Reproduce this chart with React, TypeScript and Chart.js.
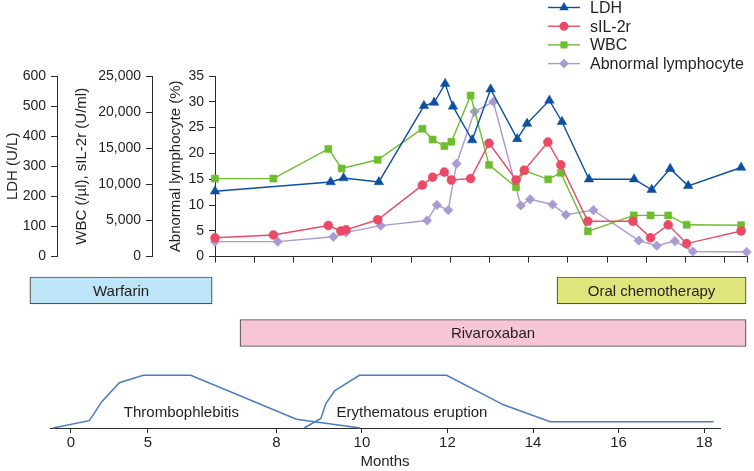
import React, { useEffect, useRef } from 'react';
import { Chart, registerables } from 'chart.js';

Chart.register(...registerables);

const FONT = "'Liberation Sans', Arial, Helvetica, sans-serif";
const INK = '#231f20';
const AXIS = '#2b2b2b';
Chart.defaults.font.family = FONT;
Chart.defaults.color = INK;

// ---------- top panel data ----------
const TOP_TICKS = [0, 1, 2, 3, 4, 5, 6, 7, 8, 9, 10, 11, 12, 13, 13.57];
const LDH_TICKS = [0, 100, 200, 300, 400, 500, 600];
const WBC_TICKS = [0, 5000, 10000, 15000, 20000, 25000];
const ABN_TICKS = [0, 5, 10, 15, 20, 25, 30, 35];

const SERIES_NAMES = ['LDH', 'sIL-2r', 'WBC', 'Abnormal lymphocyte'];

const LDH_X = [0, 2.95, 3.28, 4.18, 5.33, 5.59, 5.87, 6.07, 6.56, 7.03, 7.71, 7.96, 8.53, 8.85, 9.54, 10.69, 11.14, 11.61, 12.07, 13.42];
const LDH_Y = [217, 248, 261, 248, 501, 512, 574, 499, 387, 556, 391, 442, 519, 448, 257, 257, 222, 292, 235, 296];

const SIL_X = [0, 1.49, 2.89, 3.21, 3.34, 4.15, 5.29, 5.55, 5.85, 6.03, 6.52, 6.99, 7.68, 7.89, 8.49, 8.82, 9.51, 10.66, 11.11, 11.56, 12.03, 13.42];
const SIL_Y = [2600, 3000, 4300, 3550, 3700, 5100, 9900, 11000, 11700, 10600, 10800, 15700, 10600, 11950, 15850, 12700, 4900, 4900, 2600, 4400, 1800, 3550];

const WBC_X = [0, 1.49, 2.89, 3.23, 4.15, 5.29, 5.55, 5.85, 6.03, 6.52, 6.99, 7.68, 7.89, 8.5, 8.82, 9.51, 10.68, 11.11, 11.56, 12.03, 13.42];
const WBC_Y = [10800, 10800, 14900, 12200, 13400, 17700, 16200, 15300, 15900, 22300, 12700, 9600, 11900, 10700, 11600, 3500, 5700, 5700, 5700, 4400, 4350];

const ABN_X = [0, 1.6, 3.02, 3.34, 4.23, 5.41, 5.66, 5.95, 6.16, 6.62, 7.1, 7.8, 8.04, 8.61, 8.95, 9.65, 10.81, 11.27, 11.73, 12.19, 13.56];
const ABN_Y = [2.9, 2.9, 3.85, 4.7, 6.0, 7.0, 10.0, 9.0, 18.0, 28.1, 30.0, 9.9, 11.1, 10.1, 8.1, 9.0, 3.1, 2.1, 3.0, 1.0, 0.9];

// ---------- bottom panel data ----------
const MONTH_TICK_POS = [3.2, 5, 8, 10, 12, 14, 16, 18];
const MONTH_TICK_LABELS = ['0', '5', '8', '10', '12', '14', '16', '18'];

const TREATMENTS = ['Warfarin', 'Oral chemotherapy', 'Rivaroxaban'];
const TREATMENT_START = [2.24, 14.56, 7.15];
const TREATMENT_END = [6.5, 18.98, 18.98];
const TREATMENT_ROW = [0, 0, 1];

const SYMPTOMS = ['Thrombophlebitis', 'Erythematous eruption'];
const THROMBO_X = [2.78, 3.63, 3.92, 4.33, 4.89, 6.0, 8.47, 9.96];
const THROMBO_Y = [0, 0.14, 0.5, 0.86, 1, 1, 0.165, 0];
const ERUPT_X = [8.65, 9.04, 9.16, 9.37, 9.94, 11.98, 13.31, 14.4, 18.22];
const ERUPT_Y = [0, 0.18, 0.47, 0.71, 1, 1, 0.44, 0.12, 0.12];

// label anchors (layout, in axis units)
const SYMPTOM_LABEL_X = [5.78, 11.17];
const SYMPTOM_LABEL_Y = 0.285;

// ---------- styles ----------
const BLUE = '#0d4fa1';
const RED = '#ea4a66';
const GREEN = '#6dbd2e';
const PURPLE = '#a89bd1';
const CURVE = '#4a7cbf';
const TREAT_COLORS = ['#bde4f7', '#dee67c', '#f6c6d7'];

const pts = (xs: number[], ys: number[]) => xs.map((x, i) => ({ x, y: ys[i] }));

function drawMarker(ctx: CanvasRenderingContext2D, style: string, x: number, y: number, r: number, color: string) {
  ctx.fillStyle = color;
  ctx.beginPath();
  if (style === 'triangle') {
    ctx.moveTo(x, y - r);
    ctx.lineTo(x + 0.866 * r, y + 0.5 * r);
    ctx.lineTo(x - 0.866 * r, y + 0.5 * r);
    ctx.closePath();
  } else if (style === 'circle') {
    ctx.arc(x, y, r, 0, Math.PI * 2);
  } else if (style === 'rect') {
    const s = Math.SQRT1_2 * r;
    ctx.rect(x - s, y - s, 2 * s, 2 * s);
  } else {
    ctx.moveTo(x - r, y);
    ctx.lineTo(x, y - r);
    ctx.lineTo(x + r, y);
    ctx.lineTo(x, y + r);
    ctx.closePath();
  }
  ctx.fill();
}

const legendPlugin = {
  id: 'sideLegend',
  afterDraw(chart: any) {
    const ctx = chart.ctx as CanvasRenderingContext2D;
    const x0 = 548;
    chart.data.datasets.forEach((ds: any, i: number) => {
      const y = 7.5 + i * 18.7;
      ctx.save();
      ctx.strokeStyle = ds.borderColor;
      ctx.lineWidth = ds.borderWidth;
      ctx.beginPath();
      ctx.moveTo(x0, y);
      ctx.lineTo(x0 + 32, y);
      ctx.stroke();
      drawMarker(ctx, ds.pointStyle, x0 + 16, y, ds.pointRadius, ds.backgroundColor);
      ctx.fillStyle = INK;
      ctx.font = `16px ${FONT}`;
      ctx.textAlign = 'left';
      ctx.textBaseline = 'middle';
      ctx.fillText(ds.label, x0 + 42, y + 1);
      ctx.restore();
    });
  },
};

const panelLabelPlugin = {
  id: 'panelLabels',
  afterDatasetsDraw(chart: any) {
    const ctx = chart.ctx as CanvasRenderingContext2D;
    ctx.save();
    ctx.fillStyle = INK;
    ctx.font = `15px ${FONT}`;
    ctx.textAlign = 'center';
    ctx.textBaseline = 'middle';
    const meta = chart.getDatasetMeta(0);
    meta.data.forEach((el: any, i: number) => {
      const p = el.getProps(['x', 'y', 'base'], true);
      ctx.fillText(TREATMENTS[i], (p.x + p.base) / 2, p.y + 1);
    });
    const xs = chart.scales.x;
    const ys = chart.scales.ySym;
    SYMPTOMS.forEach((s, i) => {
      ctx.fillText(s, xs.getPixelForValue(SYMPTOM_LABEL_X[i]), ys.getPixelForValue(SYMPTOM_LABEL_Y));
    });
    ctx.restore();
  },
};

const fmt = (v: any) => Number(v).toLocaleString('en-US');

function yAxis(title: string, ticks: number[], max: number, weight: number, width: number, titlePad: number) {
  return {
    type: 'linear',
    axis: 'y',
    position: 'left',
    weight,
    min: 0,
    max,
    afterBuildTicks: (s: any) => {
      s.ticks = ticks.map((v) => ({ value: v }));
    },
    afterFit: (s: any) => {
      s.width = width;
    },
    ticks: { font: { size: 14, family: FONT }, color: INK, padding: 5, callback: fmt, autoSkip: false },
    grid: { drawOnChartArea: false, tickLength: 6, color: AXIS, lineWidth: 1 },
    border: { display: true, color: AXIS, width: 1 },
    title: { display: true, text: title, font: { size: 15, family: FONT }, color: INK, padding: { top: titlePad, bottom: 0 } },
  };
}

export default function App() {
  const topRef = useRef<HTMLCanvasElement>(null);
  const botRef = useRef<HTMLCanvasElement>(null);

  useEffect(() => {
    const top = new Chart(topRef.current as HTMLCanvasElement, {
      type: 'line',
      data: {
        datasets: [
          { label: SERIES_NAMES[0], data: pts(LDH_X, LDH_Y), yAxisID: 'yLDH', borderColor: BLUE, backgroundColor: BLUE, pointStyle: 'triangle', pointRadius: 5.5, pointBorderWidth: 0.5, borderWidth: 1.4, clip: false },
          { label: SERIES_NAMES[1], data: pts(SIL_X, SIL_Y), yAxisID: 'yWBC', borderColor: RED, backgroundColor: RED, pointStyle: 'circle', pointRadius: 4.5, pointBorderWidth: 0.5, borderWidth: 1.4, clip: false },
          { label: SERIES_NAMES[2], data: pts(WBC_X, WBC_Y), yAxisID: 'yWBC', borderColor: GREEN, backgroundColor: GREEN, pointStyle: 'rect', pointRadius: 5, pointBorderWidth: 0.5, borderWidth: 1.4, clip: false },
          { label: SERIES_NAMES[3], data: pts(ABN_X, ABN_Y), yAxisID: 'yAbn', borderColor: PURPLE, backgroundColor: PURPLE, pointStyle: 'rectRot', pointRadius: 4.8, pointBorderWidth: 0.5, borderWidth: 1.4, clip: false },
        ] as any,
      },
      options: {
        responsive: false,
        animation: false,
        layout: { padding: { left: 0, right: 7, top: 76, bottom: 0 } },
        plugins: { legend: { display: false }, tooltip: { enabled: false } },
        elements: { line: { tension: 0 } },
        scales: {
          x: {
            type: 'linear',
            min: 0,
            max: 13.57,
            offset: false,
            afterBuildTicks: (s: any) => {
              s.ticks = TOP_TICKS.map((v) => ({ value: v }));
            },
            afterFit: (s: any) => {
              s.height = 12;
            },
            ticks: { display: false },
            grid: { drawOnChartArea: false, tickLength: 6, color: AXIS, offset: false },
            border: { display: true, color: AXIS, width: 1 },
          },
          yLDH: yAxis('LDH (U/L)', LDH_TICKS, 600, 3, 57, 4),
          yWBC: yAxis('WBC (/µl), sIL-2r (U/ml)', WBC_TICKS, 25000, 2, 95, 16),
          yAbn: yAxis('Abnormal lymphocyte (%)', ABN_TICKS, 35, 1, 63, 15),
        } as any,
      },
      plugins: [legendPlugin],
    });

    const bot = new Chart(botRef.current as HTMLCanvasElement, {
      type: 'line',
      data: {
        datasets: [
          {
            type: 'bar',
            label: 'Treatment',
            indexAxis: 'y',
            xAxisID: 'x',
            yAxisID: 'yT',
            data: TREATMENTS.map((_, i) => ({ x: [TREATMENT_START[i], TREATMENT_END[i]], y: TREATMENT_ROW[i] })),
            backgroundColor: TREAT_COLORS,
            borderColor: '#505050',
            borderWidth: 1.2,
            borderSkipped: false,
            barThickness: 27,
            grouped: false,
            clip: false,
          },
          { type: 'line', label: SYMPTOMS[0], data: pts(THROMBO_X, THROMBO_Y), xAxisID: 'x', yAxisID: 'ySym', borderColor: CURVE, borderWidth: 1.5, pointRadius: 0, clip: false },
          { type: 'line', label: SYMPTOMS[1], data: pts(ERUPT_X, ERUPT_Y), xAxisID: 'x', yAxisID: 'ySym', borderColor: CURVE, borderWidth: 1.5, pointRadius: 0, clip: false },
        ] as any,
      },
      options: {
        responsive: false,
        animation: false,
        layout: { padding: { left: 50, right: 34, top: 0, bottom: 0 } },
        plugins: { legend: { display: false }, tooltip: { enabled: false } },
        scales: {
          x: {
            type: 'linear',
            axis: 'x',
            position: 'bottom',
            min: 2.71,
            max: 18.37,
            offset: false,
            afterBuildTicks: (s: any) => {
              s.ticks = MONTH_TICK_POS.map((v) => ({ value: v }));
            },
            afterFit: (s: any) => {
              s.height = 43;
            },
            ticks: {
              autoSkip: false,
              maxRotation: 0,
              padding: 1,
              font: { size: 15, family: FONT },
              color: INK,
              callback: (v: any) => {
                const i = MONTH_TICK_POS.indexOf(Number(v));
                return i >= 0 ? MONTH_TICK_LABELS[i] : '';
              },
            },
            grid: { drawOnChartArea: false, tickLength: 5, color: AXIS, offset: false },
            border: { display: true, color: AXIS, width: 1 },
            title: { display: true, text: 'Months', font: { size: 15, family: FONT }, color: INK, padding: { top: 0, bottom: 0 } },
          },
          ySym: { type: 'linear', axis: 'y', min: 0, max: 3, display: false, offset: false },
          yT: { type: 'linear', axis: 'y', min: -0.482, max: 3.235, reverse: true, display: false, offset: false, grid: { offset: false } },
        } as any,
      },
      plugins: [panelLabelPlugin],
    });

    return () => {
      top.destroy();
      bot.destroy();
    };
  }, []);

  return (
    <div style={{ position: 'absolute', left: 0, top: 0, width: 754, height: 471, background: '#ffffff', overflow: 'hidden' }}>
      <canvas ref={topRef} width={754} height={270} style={{ position: 'absolute', left: 0, top: 0 }} />
      <canvas ref={botRef} width={754} height={201} style={{ position: 'absolute', left: 0, top: 270 }} />
    </div>
  );
}
